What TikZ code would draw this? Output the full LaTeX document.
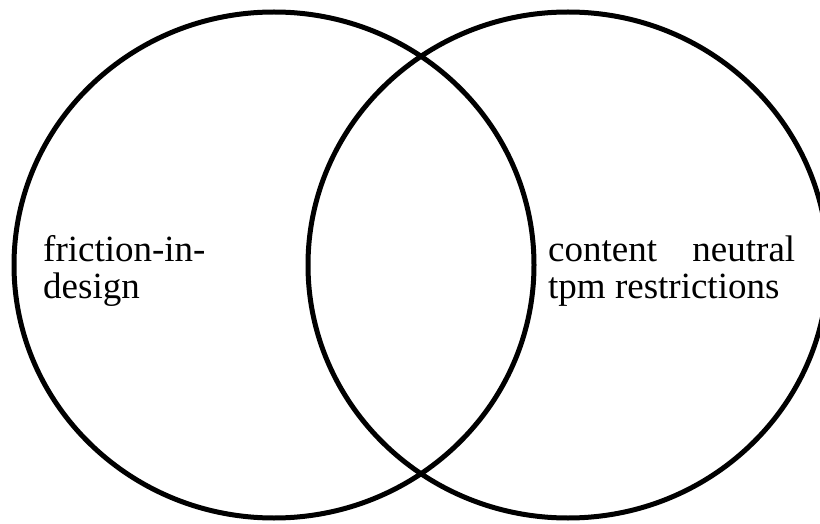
\documentclass[tikz,border=0pt]{standalone}
\usepackage{fontspec}
\setmainfont{Liberation Serif}
\usetikzlibrary{shapes.geometric}

\tikzset{
  setring/.style={draw,ellipse,line width=5pt,minimum width=520pt,minimum height=506pt,inner sep=0pt},
  setlabel/.style={anchor=base west,inner sep=0pt,text width=247pt,align=justify,
    font=\fontsize{37}{37}\selectfont}
}

\begin{document}
\begin{tikzpicture}[x=1pt,y=1pt]
\useasboundingbox (0,0) rectangle (820,523);

\node[setring] (friction) at (274,258) {};
\node[setring] (tpm) at (568,258) {};

\node[setlabel] (frictionlabel) at (43,261) {friction-in-\\design};
\node[setlabel] (tpmlabel) at (548,261) {content neutral tpm restrictions};
\end{tikzpicture}
\end{document}
